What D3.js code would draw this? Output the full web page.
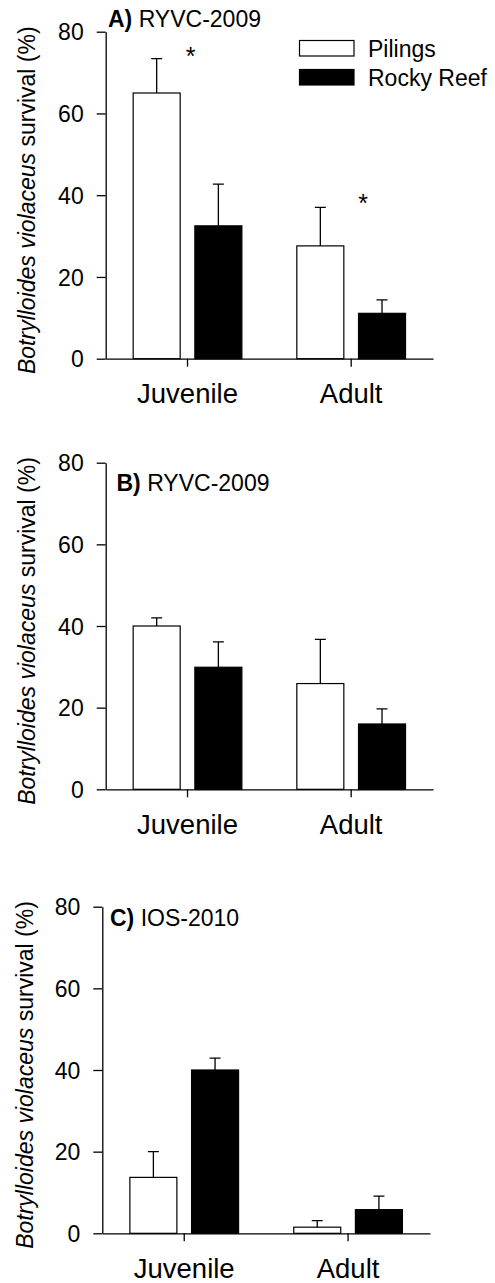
<!DOCTYPE html>
<html>
<head>
<meta charset="utf-8">
<script src="https://cdn.jsdelivr.net/npm/d3@7"></script>
<style>
  body { margin: 0; background: #fff; }
  svg { display: block; font-family: "Liberation Sans", Arial, sans-serif; }
</style>
</head>
<body>
<div id="chart"></div>
<script>
// categories
const groups = ["Juvenile", "Adult"];
const sites = ["Pilings", "Rocky Reef"];
const yTicks = [0, 20, 40, 60, 80];

// panel labels
const panelLetters = ["A)", "B)", "C)"];
const panelNames = ["RYVC-2009", "RYVC-2009", "IOS-2010"];

// mean survival (%) per group [Juvenile, Adult] and SE
const pilingsA = [65.0, 27.6], pilingsErrA = [8.4, 9.4];
const reefA = [32.5, 11.1], reefErrA = [10.2, 3.3];
const pilingsB = [40.0, 25.9], pilingsErrB = [2.0, 10.8];
const reefB = [29.9, 16.0], reefErrB = [6.2, 3.7];
const pilingsC = [13.7, 1.5], pilingsErrC = [6.3, 1.6];
const reefC = [40.0, 5.8], reefErrC = [2.9, 3.3];

// significance markers in panel A (height in %)
const starsA = [75.5, 39.6];

const W = 495, H = 1283;
const svg = d3.select("#chart").append("svg")
    .attr("width", W)
    .attr("height", H);

// layout of each panel (pixel frame)
const panels = [
    { x0: 105.7, x1: 433, top: 31.7, bottom: 358.7, pil: pilingsA, pilE: pilingsErrA, reef: reefA, reefE: reefErrA,
      titleX: 108, titleY: 26.7, labX: 34.5, stars: starsA, legend: true },
    { x0: 105.7, x1: 433, top: 462.7, bottom: 789.3, pil: pilingsB, pilE: pilingsErrB, reef: reefB, reefE: reefErrB,
      titleX: 116.5, titleY: 491, labX: 35 },
    { x0: 102.3, x1: 430, top: 906.7, bottom: 1233.3, pil: pilingsC, pilE: pilingsErrC, reef: reefC, reefE: reefErrC,
      titleX: 110, titleY: 926, labX: 33 }
];

panels.forEach((p, i) => {
    const g = svg.append("g");

    let y = d3.scaleLinear().domain([0, 80]).range([p.bottom, p.top]);
    let x = d3.scaleBand().domain(groups).range([p.x0, p.x1]).padding(0);
    let xs = d3.scaleBand().domain(sites).range([-54.35, 54.35]).paddingInner(0.238);

    // bars table
    let rows = [];
    groups.forEach((grp, gi) => {
        rows.push({ group: grp, site: sites[0], value: p.pil[gi], err: p.pilE[gi] });
        rows.push({ group: grp, site: sites[1], value: p.reef[gi], err: p.reefE[gi] });
    });
    const cx = d => x(d.group) + x.bandwidth() / 2;

    g.selectAll(".bar")
        .data(rows)
        .enter()
        .append("rect")
            .attr("x", d => cx(d) + xs(d.site))
            .attr("y", d => y(d.value))
            .attr("width", xs.bandwidth())
            .attr("height", d => y(0) - y(d.value))
            .style("fill", d => d.site === "Pilings" ? "#fff" : "#000")
            .style("stroke", "#000")
            .style("stroke-width", 1.2);

    // error bars (upper only)
    const mid = d => cx(d) + xs(d.site) + xs.bandwidth() / 2;
    g.selectAll(".err")
        .data(rows)
        .enter()
        .append("path")
            .attr("d", d => `M${mid(d)},${y(d.value)}V${y(d.value + d.err)}M${mid(d) - 5.5},${y(d.value + d.err)}h11`)
            .style("fill", "none")
            .style("stroke", "#000")
            .style("stroke-width", 1.3);

    // y axis
    let yAxis = g.append("g")
        .attr("transform", `translate(${p.x0},0)`)
        .call(d3.axisLeft(y).tickValues(yTicks).tickSize(9).tickPadding(13).tickSizeOuter(0));
    yAxis.selectAll("text")
        .style("font-size", "23px")
        .style("fill", "#000")
        .attr("dy", "0.36em");

    // x axis
    let xAxis = g.append("g")
        .attr("transform", `translate(0,${p.bottom})`)
        .call(d3.axisBottom(x).tickSize(8).tickPadding(17).tickSizeOuter(0));
    xAxis.selectAll("text")
        .style("font-size", "27.5px")
        .style("fill", "#000");

    svg.selectAll(".domain, .tick line")
        .style("stroke", "#000")
        .style("stroke-width", 1.3);

    // panel title
    let title = g.append("text")
        .attr("x", p.titleX)
        .attr("y", p.titleY)
        .style("font-size", "23px");
    title.append("tspan").style("font-weight", "bold").text(panelLetters[i]);
    title.append("tspan").text(" " + panelNames[i]);

    // y-axis label
    let lab = g.append("text")
        .attr("transform", `translate(${p.labX},${(p.top + p.bottom) / 2 + 5}) rotate(-90)`)
        .style("text-anchor", "middle")
        .style("font-size", "23px");
    lab.append("tspan").style("font-style", "italic").text("Botrylloides violaceus");
    lab.append("tspan").text(" survival (%)");

    // asterisks
    if (p.stars) {
        const starDx = [3, 12];
        g.selectAll(".star")
            .data(p.stars)
            .enter()
            .append("text")
                .attr("x", (d, k) => x(groups[k]) + x.bandwidth() / 2 + starDx[k])
                .attr("y", d => y(d) + 15)
                .style("text-anchor", "middle")
                .style("font-size", "25px")
                .text("*");
    }

    // legend
    if (p.legend) {
        const leg = g.selectAll(".leg")
            .data(sites)
            .enter()
            .append("g")
                .attr("transform", (d, k) => `translate(299.5,${40.5 + k * 29})`);
        leg.append("rect")
            .attr("width", 54.5)
            .attr("height", 15.5)
            .style("fill", d => d === "Pilings" ? "#fff" : "#000")
            .style("stroke", "#000")
            .style("stroke-width", 1.2);
        leg.append("text")
            .attr("x", 68.5)
            .attr("y", 16.3)
            .style("font-size", "23px")
            .text(d => d);
    }
});
</script>
</body>
</html>
